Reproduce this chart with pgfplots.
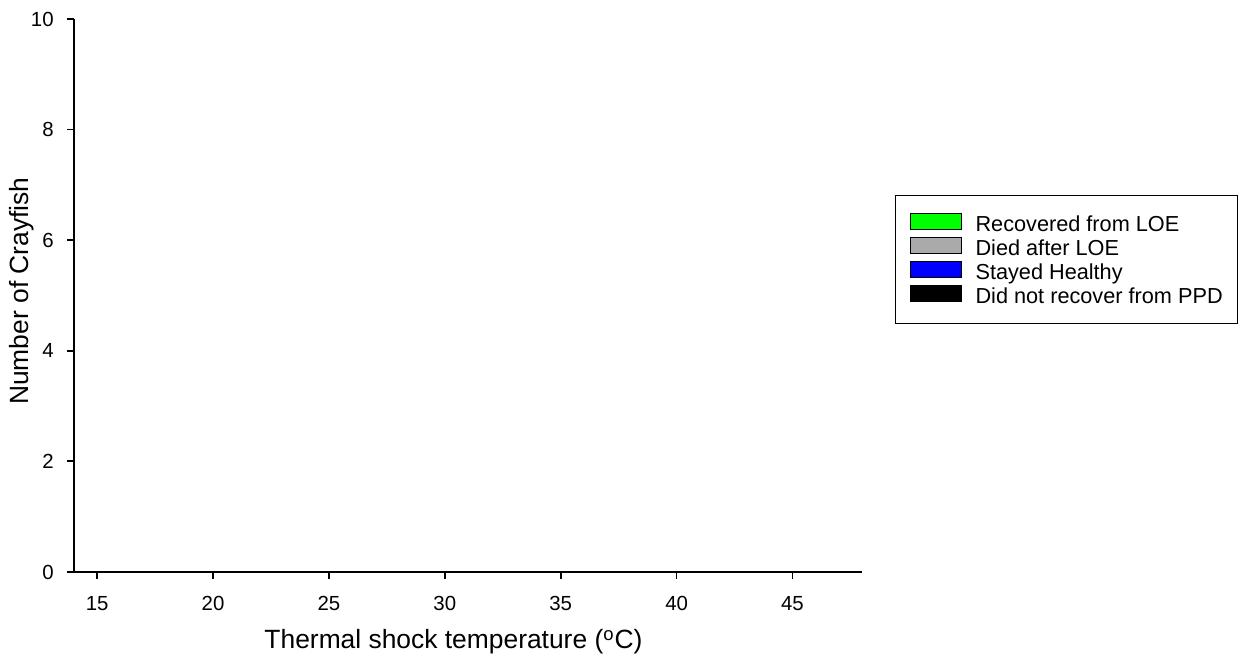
\documentclass[border=0pt]{standalone}
\usepackage{fontspec}
\setmainfont{Liberation Sans}
\usepackage{pgfplots}
\pgfplotsset{compat=1.18}

\begin{document}
\begin{tikzpicture}
\useasboundingbox (-37pt,-47.5pt) rectangle (585.5pt,286pt);
\begin{axis}[
  at={(0,0)}, anchor=south west,
  scale only axis,
  width=394pt, height=276.5pt,
  xmin=14, xmax=48, ymin=0, ymax=10,
  axis x line*=bottom, axis y line*=left,
  axis line style={line width=0.9pt, black},
  xtick={15,20,...,45}, ytick={0,2,...,10},
  tick align=outside,
  major tick length=3.5pt,
  tick style={line width=0.9pt, black},
  /pgf/number format/assume math mode=true,
  tick label style={font=\fontsize{10.2pt}{12pt}\selectfont},
  xticklabel style={inner sep=0pt, text height=7.3pt, text depth=0pt, yshift=-8.5pt},
  yticklabel style={inner sep=0pt, xshift=-6.5pt},
  xlabel={Thermal shock temperature (\textsuperscript{o}C)},
  ylabel={Number of Crayfish},
  every axis x label/.style={at={(axis description cs:0.4816,-0.1392)}, anchor=base,
    font=\fontsize{13.2pt}{15pt}\selectfont},
  every axis y label/.style={at={(axis description cs:-0.066,0.508)}, rotate=90, anchor=center,
    font=\fontsize{13.2pt}{15pt}\selectfont},
  legend cell align=left,
  legend style={
    at={(axis description cs:1.0419,0.6817)}, anchor=north west,
    draw=black, line width=0.5pt,
    inner xsep=7.5pt, inner ysep=10pt,
    row sep=4.2pt, column sep=7pt,
    font=\fontsize{10.85pt}{13pt}\selectfont,
    nodes={inner sep=0pt, text height=7.8pt, text depth=0pt},
  },
  legend image code/.code={
    \draw[#1, line width=0.65pt] (0pt,-3.2pt) rectangle (25.5pt,4.8pt);
    \pgfresetboundingbox
    \path[use as bounding box, draw=none, fill=none] (0pt,0pt) rectangle (25.5pt,0.1pt);
  },
]
% No counts were recorded for any temperature; only the legend categories are shown.
\addlegendimage{fill={rgb,255:red,0;green,255;blue,0}, draw=black}
\addlegendentry{Recovered from LOE}
\addlegendimage{fill={rgb,255:red,170;green,170;blue,170}, draw=black}
\addlegendentry{Died after LOE}
\addlegendimage{fill={rgb,255:red,0;green,0;blue,255}, draw=black}
\addlegendentry{Stayed Healthy}
\addlegendimage{fill=black, draw=black}
\addlegendentry{Did not recover from PPD}
\end{axis}
\end{tikzpicture}
\end{document}
